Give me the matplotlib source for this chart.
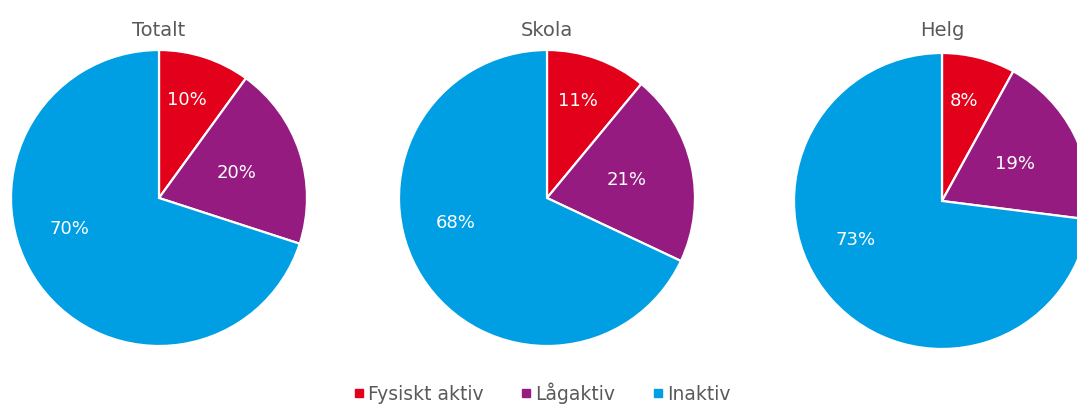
import numpy as np
import matplotlib
matplotlib.use("Agg")
import matplotlib.pyplot as plt
from matplotlib.lines import Line2D

titles = ["Totalt", "Skola", "Helg"]
categories = ["Fysiskt aktiv", "Lågaktiv", "Inaktiv"]
totalt = [10, 20, 70]
skola = [11, 21, 68]
helg = [8, 19, 73]
series = [totalt, skola, helg]

colors = ["#E2001A", "#951B81", "#009FE3"]
text_gray = "#595959"

# label placement per category: radial distance (fraction of radius)
# and angular shift (degrees) from the wedge's mid-angle
label_radius = [0.69, 0.55, 0.64]
label_shift = [2, 0, -17]

W, H = 1077, 405
fig = plt.figure(figsize=(W / 100, H / 100), dpi=100)
plt.rcParams["font.family"] = ["DejaVu Sans"]

R = 148
centers = [(159, 198), (547, 198), (942, 201)]

for (cx, cy), title, vals in zip(centers, titles, series):
    ax = fig.add_axes([(cx - R) / W, (H - cy - R) / H, 2 * R / W, 2 * R / H])
    wedges, _ = ax.pie(
        vals, colors=colors, startangle=90, counterclock=False,
        wedgeprops=dict(edgecolor="white", linewidth=1.6),
    )
    total = sum(vals)
    for w, v, rr, sh in zip(wedges, vals, label_radius, label_shift):
        mid = np.deg2rad((w.theta1 + w.theta2) / 2 + sh)
        ax.text(rr * np.cos(mid), rr * np.sin(mid), f"{100 * v / total:.0f}%",
                ha="center", va="center", color="white", fontsize=13)
    ax.set_xlim(-1, 1)
    ax.set_ylim(-1, 1)
    ax.set_aspect("equal")
    ax.axis("off")
    fig.text(cx / W, 1 - 30 / H, title, ha="center", va="center",
             fontsize=14, color=text_gray)

handles = [Line2D([], [], marker="s", linestyle="none", markersize=6,
                  markerfacecolor=c, markeredgecolor=c) for c in colors]
fig.legend(handles, categories, loc="center", bbox_to_anchor=(542 / W, 1 - 393 / H),
           ncol=3, frameon=False, fontsize=13.5, handletextpad=0.2,
           columnspacing=1.95, labelcolor=text_gray, handlelength=0.6)

fig.savefig("out.png", dpi=100, facecolor="white")
